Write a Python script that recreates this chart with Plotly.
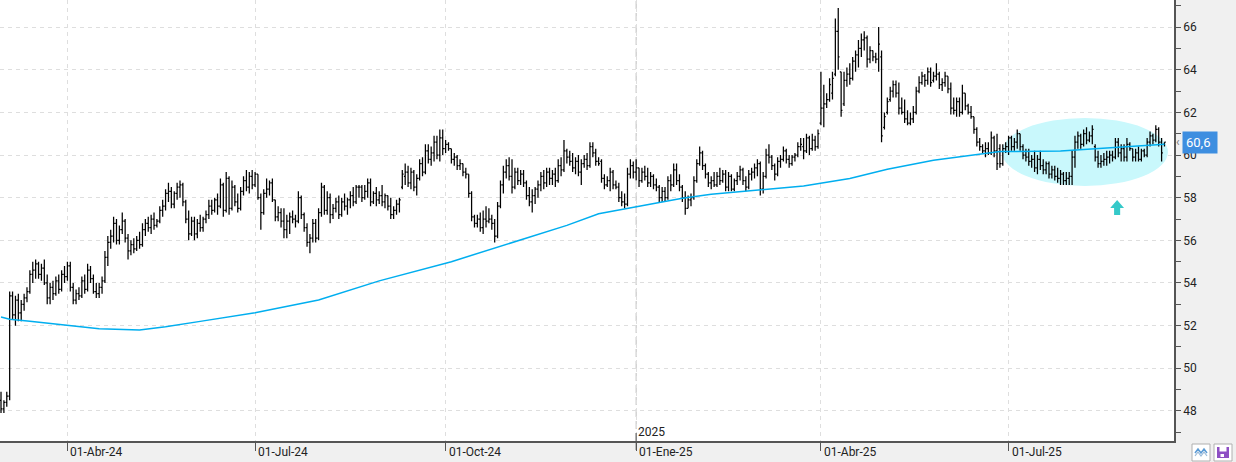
import pandas as pd
import plotly.graph_objects as go

# ---------------- data (daily OHLC) ----------------
start_date = "2024-02-28"

opens = [
48.5,48.1,48.4,48.7,53.4,52.5,53.2,52.6,53.0,53.3,
53.6,54.4,54.6,54.9,54.4,54.7,54.0,53.3,53.8,53.5,
54.1,53.7,54.4,54.3,54.8,53.8,53.2,53.5,53.4,54.1,
53.7,54.6,54.2,53.6,53.5,53.8,54.1,55.2,55.9,56.2,
56.8,56.0,56.5,56.9,56.1,55.5,55.8,55.6,56.0,55.8,
56.5,56.8,56.6,57.0,56.7,56.9,57.4,57.6,58.2,58.3,
57.7,58.2,58.5,58.6,57.8,57.0,56.3,56.9,56.3,56.8,
56.6,57.0,57.2,57.6,57.4,57.9,57.6,58.6,57.4,58.9,
57.5,58.5,57.8,57.5,58.3,58.8,58.5,59.0,58.6,59.1,
58.0,57.3,58.2,58.4,58.7,57.9,57.1,57.3,56.9,56.5,
56.9,57.1,57.0,56.9,58.0,57.2,56.6,55.9,56.1,56.8,
56.1,57.3,58.5,57.4,58.0,57.2,57.5,57.8,57.2,57.8,
57.6,57.9,58.1,57.8,58.5,58.5,58.0,58.3,58.7,57.8,
58.2,57.9,58.1,57.8,58.1,57.6,57.2,57.4,57.7,58.5,
59.0,59.2,58.7,59.2,58.5,58.9,59.6,59.2,60.2,59.8,
60.1,60.6,60.0,60.8,60.3,60.5,60.3,59.8,59.9,59.5,
59.6,59.2,59.1,58.2,57.1,56.8,57.0,56.6,57.0,56.9,
57.0,56.8,56.2,57.6,58.6,59.2,59.5,59.0,58.5,59.2,
58.8,59.1,58.7,58.1,57.8,58.1,58.4,58.6,59.0,58.7,
59.2,58.9,59.1,58.8,59.5,59.3,60.2,59.9,59.7,59.4,
59.7,59.2,59.6,59.8,59.5,60.4,60.1,59.7,59.7,58.9,
58.6,58.8,59.2,58.6,58.5,58.0,57.8,57.7,59.1,59.5,
59.2,59.4,58.8,59.2,59.0,58.7,59.0,58.6,58.5,58.0,
58.3,58.0,58.8,58.6,59.3,58.8,58.5,58.0,57.5,57.9,
58.0,58.8,59.6,60.1,59.5,59.1,58.7,58.8,58.6,59.0,
58.8,59.1,58.5,59.0,58.4,58.8,59.0,59.3,58.8,58.5,
59.1,59.2,59.4,59.6,58.4,59.0,60.0,59.9,59.5,59.1,
59.7,59.8,60.2,59.8,59.6,59.9,60.0,60.4,60.4,60.2,
60.8,60.3,60.7,60.4,61.5,62.2,62.4,62.6,62.9,63.8,
65.8,63.9,62.4,63.5,63.8,63.6,64.4,64.7,65.0,65.4,
65.5,64.5,64.9,64.6,64.5,64.6,61.3,62.0,62.6,63.0,
63.3,62.9,62.2,62.0,61.7,61.5,61.7,62.0,63.0,63.4,
63.7,63.5,63.9,63.5,63.7,63.8,63.3,63.4,63.7,63.1,
62.2,62.1,62.5,62.0,62.9,62.3,62.0,61.8,61.2,60.6,
60.4,60.2,60.3,60.1,60.8,60.2,60.3,59.6,60.3,60.4,
60.8,60.4,60.6,61.0,60.4,60.0,59.9,59.7,59.8,59.4,
59.8,59.5,59.3,59.6,59.1,59.3,59.0,58.9,59.1,58.8,
58.9,59.0,59.9,60.6,60.9,60.5,61.0,60.7,60.9,60.4,
59.9,59.6,59.7,59.8,59.9,60.0,59.9,60.6,60.1,60.3,
59.9,60.5,60.3,59.9,60.1,59.8,60.2,60.0,60.6,60.9,
60.7,61.2,60.6,60.5]

highs = [
48.9,48.5,48.9,53.6,53.6,53.4,53.5,53.2,53.5,53.8,
54.6,55.0,55.1,55.0,54.9,55.1,54.4,54.0,54.1,54.3,
54.4,54.6,54.8,55.0,55.0,54.0,53.7,53.8,54.3,54.4,
54.9,54.8,54.4,54.0,54.0,54.3,55.5,56.2,56.5,57.1,
57.0,56.7,57.3,57.0,56.3,56.0,56.1,56.2,56.4,56.8,
57.0,57.1,57.2,57.3,57.0,57.6,57.9,58.4,58.7,58.5,
58.3,58.7,58.8,58.7,57.9,57.4,57.1,57.1,57.0,57.2,
57.1,57.4,57.9,57.9,58.0,58.2,58.9,58.7,59.2,59.0,
58.8,58.6,58.2,58.5,59.0,59.3,59.2,59.3,59.2,59.1,
58.2,58.4,58.9,58.8,58.9,57.9,57.6,57.5,57.5,57.2,
57.3,57.4,57.2,58.3,58.1,57.3,56.8,56.3,57.0,57.0,
57.5,58.7,58.6,58.3,58.2,57.7,58.0,58.1,58.0,58.2,
58.0,58.3,58.5,58.6,58.6,58.6,58.6,58.9,58.9,58.3,
58.5,58.3,58.6,58.2,58.1,58.0,57.6,57.9,58.0,59.3,
59.6,59.5,59.4,59.3,59.1,59.8,59.9,60.5,60.5,60.4,
60.9,60.9,61.2,61.2,60.7,60.6,60.3,60.1,60.0,59.8,
59.6,59.4,59.1,58.3,57.2,57.2,57.3,57.4,57.6,57.5,
57.2,57.0,57.8,58.8,59.5,59.8,59.9,59.8,59.4,59.4,
59.3,59.3,58.8,58.5,58.4,58.5,58.8,59.2,59.3,59.4,
59.4,59.3,59.4,59.8,59.9,60.7,60.3,60.2,60.1,59.9,
60.0,59.8,60.0,60.1,60.6,60.6,60.3,59.9,59.8,59.1,
59.0,59.4,59.3,58.8,58.7,58.3,58.2,59.4,59.8,59.7,
59.8,59.4,59.4,59.5,59.4,59.2,59.1,58.9,58.6,58.5,
58.5,59.0,59.1,59.6,59.6,59.1,58.6,58.3,58.1,58.2,
59.0,59.8,60.4,60.2,59.6,59.2,59.0,59.2,59.2,59.4,
59.3,59.3,59.2,59.1,58.9,59.2,59.5,59.4,59.0,59.3,
59.4,59.6,59.8,59.7,59.2,60.3,60.5,60.0,59.6,59.9,
60.0,60.4,60.3,60.0,60.0,60.1,60.6,60.8,60.8,61.0,
60.9,61.0,60.9,61.2,63.9,63.3,62.9,63.6,63.9,66.4,
66.9,63.9,63.9,64.1,64.3,64.6,64.9,65.4,65.7,65.8,
65.6,65.1,64.9,64.8,66.0,64.9,62.0,62.7,63.2,63.5,
63.5,63.4,62.7,62.6,62.1,62.0,62.3,63.2,63.7,63.9,
63.8,64.1,64.1,63.9,64.3,63.9,63.6,63.9,63.7,63.4,
62.7,62.7,62.7,63.3,62.9,62.4,62.3,61.8,61.3,60.8,
60.5,60.6,60.6,61.1,60.9,61.0,60.5,60.5,60.6,60.9,
60.9,60.8,61.2,61.0,60.5,60.3,60.3,60.0,60.2,60.0,
60.2,59.8,59.7,59.7,59.5,59.5,59.4,59.3,59.2,59.2,
59.2,60.2,60.9,61.1,61.0,61.2,61.3,61.1,61.4,60.5,
60.2,60.0,60.1,60.2,60.2,60.2,60.8,60.8,60.5,60.5,
60.8,60.6,60.3,60.3,60.4,60.3,60.3,60.8,61.1,61.0,
61.4,61.3,60.8,60.6]

lows = [
47.9,47.9,48.2,48.5,52.3,52.0,52.2,52.2,52.7,53.1,
53.5,54.0,54.2,54.2,54.1,53.9,53.0,53.0,53.2,53.4,
53.5,53.6,54.0,54.1,53.6,53.0,53.0,53.2,53.3,53.5,
53.6,54.0,53.5,53.3,53.3,53.5,54.0,54.8,55.6,55.9,
55.8,55.8,56.3,55.9,55.1,55.3,55.4,55.5,55.6,55.7,
56.2,56.4,56.3,56.5,56.6,56.8,57.1,57.4,57.8,57.5,
57.5,57.9,58.0,57.6,56.8,56.0,56.2,56.0,56.1,56.4,
56.4,56.8,57.0,57.2,57.3,57.2,57.5,57.1,57.3,57.2,
57.4,57.6,57.3,57.4,58.1,58.3,58.2,58.4,58.5,57.9,
56.5,57.2,58.0,58.1,57.8,56.9,56.9,56.6,56.1,56.1,
56.3,56.8,56.6,56.8,57.0,56.4,55.7,55.4,55.9,55.9,
56.0,57.1,57.2,57.2,56.8,57.0,57.3,57.0,57.1,57.4,
57.2,57.5,57.6,57.7,58.0,57.8,57.9,58.0,57.6,57.7,
57.6,57.7,57.6,57.5,57.4,57.0,57.0,57.2,57.3,58.4,
58.6,58.5,58.4,58.3,58.1,58.8,59.0,59.1,59.6,59.5,
59.7,59.8,59.7,60.0,60.1,60.2,59.6,59.5,59.3,59.3,
59.0,58.9,58.0,56.9,56.6,56.6,56.4,56.3,56.6,56.8,
56.5,55.9,56.1,57.5,58.2,58.9,58.8,58.2,58.4,58.6,
58.6,58.5,57.9,57.6,57.3,57.7,58.0,58.3,58.4,58.5,
58.6,58.6,58.5,58.7,59.0,59.2,59.6,59.5,59.2,59.1,
59.0,58.6,59.4,59.3,59.4,59.9,59.5,59.5,58.7,58.4,
58.5,58.3,58.4,58.4,57.8,57.6,57.5,57.6,58.9,58.9,
58.8,58.5,58.7,58.8,58.5,58.5,58.4,58.3,57.8,57.8,
57.8,57.9,58.3,58.5,58.6,58.3,57.8,57.2,57.5,57.6,
57.9,58.7,59.5,59.3,58.9,58.5,58.4,58.5,58.5,58.6,
58.7,58.3,58.3,58.3,58.3,58.6,58.8,58.6,58.3,58.4,
58.8,58.9,59.0,58.1,58.2,58.9,59.6,59.3,58.8,59.0,
59.4,59.7,59.6,59.4,59.5,59.7,59.9,60.2,59.8,60.1,
60.0,60.2,60.2,60.3,61.4,61.3,62.2,62.5,62.6,63.7,
64.0,61.8,62.3,63.2,63.3,63.5,63.9,64.1,64.6,64.9,
64.1,64.3,64.4,64.3,63.9,60.6,61.2,61.9,62.5,62.7,
62.7,61.9,61.9,61.5,61.4,61.4,61.5,61.9,62.9,63.3,
63.2,63.3,63.2,63.4,63.5,63.1,63.0,63.2,62.9,61.9,
61.9,61.8,61.8,61.9,62.1,61.9,61.7,61.0,60.4,60.2,
60.1,59.9,60.0,60.0,59.9,59.3,59.4,59.5,60.1,60.0,
60.2,60.2,60.3,60.2,59.8,59.7,59.5,59.4,59.2,59.1,
59.3,59.1,59.1,58.9,58.9,58.8,58.7,58.6,58.6,58.6,
58.6,58.6,59.4,60.3,60.3,60.4,60.5,60.6,60.5,59.7,
59.4,59.4,59.5,59.5,59.6,59.7,59.8,59.9,59.7,59.7,
59.7,60.2,59.7,59.7,59.7,59.7,59.9,59.9,60.4,60.5,
60.6,60.4,59.7,60.4]

closes = [
48.1,48.4,48.7,53.4,52.5,53.2,52.6,53.0,53.3,53.6,
54.4,54.6,54.9,54.4,54.7,54.0,53.3,53.8,53.5,54.1,
53.7,54.4,54.3,54.8,53.8,53.2,53.5,53.4,54.1,53.7,
54.6,54.2,53.6,53.5,53.8,54.1,55.2,55.9,56.2,56.8,
56.0,56.5,56.9,56.1,55.5,55.8,55.6,56.0,55.8,56.5,
56.8,56.6,57.0,56.7,56.9,57.4,57.6,58.2,58.3,57.7,
58.2,58.5,58.6,57.8,57.0,56.3,56.9,56.3,56.8,56.6,
57.0,57.2,57.6,57.4,57.9,57.6,58.6,57.4,58.9,57.5,
58.5,57.8,57.5,58.3,58.8,58.5,59.0,58.6,59.1,58.0,
57.3,58.2,58.4,58.7,57.9,57.1,57.3,56.9,56.5,56.9,
57.1,57.0,56.9,58.0,57.2,56.6,55.9,56.1,56.8,56.1,
57.3,58.5,57.4,58.0,57.2,57.5,57.8,57.2,57.8,57.6,
57.9,58.1,57.8,58.5,58.5,58.0,58.3,58.7,57.8,58.2,
57.9,58.1,57.8,58.1,57.6,57.2,57.4,57.7,57.9,59.1,
59.2,58.7,59.2,58.5,58.9,59.6,59.2,60.2,59.8,60.1,
60.6,60.0,60.8,60.3,60.5,60.3,59.8,59.9,59.5,59.6,
59.2,59.1,58.2,57.1,56.8,57.0,56.6,57.0,56.9,57.0,
56.8,56.2,57.6,58.6,59.2,59.5,59.0,58.5,59.2,58.8,
59.1,58.7,58.1,57.8,58.1,58.4,58.6,59.0,58.7,59.2,
58.9,59.1,58.8,59.5,59.3,60.2,59.9,59.7,59.4,59.7,
59.2,59.6,59.8,59.5,60.4,60.1,59.7,59.6,58.9,58.6,
58.8,59.2,58.6,58.5,58.0,57.8,57.7,59.1,59.5,59.2,
59.4,58.8,59.2,59.0,58.7,59.0,58.6,58.5,58.0,58.3,
58.0,58.8,58.6,59.3,58.8,58.5,58.0,57.5,57.9,58.0,
58.8,59.6,60.1,59.5,59.1,58.7,58.8,58.6,59.0,58.8,
59.1,58.5,59.0,58.4,58.8,59.0,59.3,58.8,58.5,59.1,
59.2,59.4,59.6,58.4,59.0,60.0,59.9,59.5,59.1,59.7,
59.8,60.2,59.8,59.6,59.9,60.0,60.4,60.5,60.2,60.8,
60.3,60.7,60.4,61.0,62.2,62.4,62.6,63.3,63.6,65.8,
64.6,62.1,63.5,63.8,63.6,64.4,64.7,65.0,65.4,65.5,
64.5,64.9,64.6,64.5,65.2,60.9,61.8,62.5,63.0,63.3,
62.9,62.2,62.0,61.7,61.5,61.7,62.0,63.0,63.4,63.7,
63.5,63.9,63.4,63.7,63.8,63.3,63.4,63.7,63.1,62.2,
62.1,62.5,62.0,62.9,62.3,62.0,61.8,61.2,60.6,60.4,
60.2,60.3,60.1,60.8,60.2,59.6,59.6,60.3,60.4,60.8,
60.4,60.6,61.0,60.4,60.0,59.9,59.7,59.8,59.4,59.8,
59.5,59.3,59.6,59.1,59.3,59.0,58.9,59.1,58.8,58.9,
59.0,59.9,60.6,60.9,60.5,61.0,60.7,60.9,61.2,59.9,
59.6,59.7,59.8,59.9,60.0,59.9,60.6,60.1,60.3,59.9,
60.5,60.3,59.9,60.1,59.8,60.2,60.0,60.6,60.9,60.7,
61.2,60.6,60.1,60.6]

# moving average (read at sampled bars)
ma_bar = [0, 3, 10, 17, 24, 34, 48, 57, 69, 88, 110, 131, 156, 170, 184, 196,
          207, 221, 236, 246, 264, 278, 294, 307, 323, 339, 346, 367, 379, 395, 403]
ma_vals = [52.4, 52.3, 52.2, 52.1, 52.0, 51.85, 51.8, 51.95, 52.2, 52.6, 53.2, 54.1,
           55.0, 55.6, 56.2, 56.7, 57.25, 57.6, 57.97, 58.16, 58.36, 58.55, 58.9,
           59.33, 59.76, 60.05, 60.16, 60.19, 60.31, 60.44, 60.5]

tick_dates = ["2024-04-01", "2024-07-01", "2024-10-01", "2025-01-01", "2025-04-01", "2025-07-01"]
tick_text = ["01-Abr-24", "01-Jul-24", "01-Oct-24", "01-Ene-25", "01-Abr-25", "01-Jul-25"]
year_label = "2025"

# highlight (ellipse) and arrow, in data units
ellipse_x = [346.7, 404.2]
ellipse_y = [58.55, 61.74]
arrow_bar = 386.6
arrow_tip, arrow_base, arrow_bottom = 57.89, 57.52, 57.19

# ---------------- build ----------------
dates = pd.bdate_range(start_date, periods=len(closes))
xi = list(range(len(closes)))
tick_idx = [int((dates >= pd.Timestamp(d)).argmax()) for d in tick_dates]

W, H = 1236, 462
ML, MR, MT, MB = 0, 62, 0, 21
PW, PH = W - ML - MR, H - MT - MB


def px(x):
    return (x - ML) / PW


def py(y):
    return (MT + PH - y) / PH


fig = go.Figure()
fig.add_trace(go.Ohlc(
    x=xi, open=opens, high=highs, low=lows, close=closes,
    increasing=dict(line=dict(color="#000000", width=1.25)),
    decreasing=dict(line=dict(color="#000000", width=1.25)),
    tickwidth=0.45, hoverinfo="skip", showlegend=False))
fig.add_trace(go.Scatter(
    x=ma_bar, y=ma_vals, mode="lines",
    line=dict(color="#00aeef", width=1.5), hoverinfo="skip", showlegend=False))

shapes = []
# highlight ellipse
shapes.append(dict(type="circle", xref="x", yref="y",
                   x0=ellipse_x[0], x1=ellipse_x[1], y0=ellipse_y[0], y1=ellipse_y[1],
                   fillcolor="#c9f8fc", line=dict(width=0), layer="between"))
# arrow
hw, sw = 2.4, 1.05
path = (f"M {arrow_bar - hw},{arrow_base} L {arrow_bar},{arrow_tip} L {arrow_bar + hw},{arrow_base} "
        f"L {arrow_bar + sw},{arrow_base} L {arrow_bar + sw},{arrow_bottom} "
        f"L {arrow_bar - sw},{arrow_bottom} L {arrow_bar - sw},{arrow_base} Z")
shapes.append(dict(type="path", xref="x", yref="y", path=path,
                   fillcolor="#35c9c9", line=dict(width=0), layer="above"))
# year separator line
jan = tick_idx[3]
shapes.append(dict(type="line", xref="x", yref="paper", x0=jan, x1=jan, y0=0, y1=1,
                   line=dict(color="#bdbdbd", width=1, dash="8px,4px"), layer="below"))
shapes.append(dict(type="line", xref="x", yref="paper", x0=jan, x1=jan, y0=py(433), y1=py(450),
                   line=dict(color="#555555", width=1)))
# bottom-right icons
shapes.append(dict(type="rect", xref="paper", yref="paper", x0=px(1192), x1=px(1210),
                   y0=py(461), y1=py(444), fillcolor="#ffffff", line=dict(color="#b0b0b0", width=1)))
shapes.append(dict(type="path", xref="paper", yref="paper",
                   path=(f"M {px(1195)},{py(453)} L {px(1198)},{py(449)} L {px(1201)},{py(453)} "
                         f"L {px(1204)},{py(449)} L {px(1207)},{py(453)}"),
                   line=dict(color="#5b9bd5", width=1.5)))
shapes.append(dict(type="path", xref="paper", yref="paper",
                   path=(f"M {px(1195)},{py(456)} L {px(1198)},{py(452)} L {px(1201)},{py(456)} "
                         f"L {px(1204)},{py(452)} L {px(1207)},{py(456)}"),
                   line=dict(color="#9bbbd9", width=1.2)))
shapes.append(dict(type="rect", xref="paper", yref="paper", x0=px(1214), x1=px(1232),
                   y0=py(461), y1=py(444), fillcolor="#ffffff", line=dict(color="#b0b0b0", width=1)))
shapes.append(dict(type="rect", xref="paper", yref="paper", x0=px(1217), x1=px(1229),
                   y0=py(458), y1=py(447), fillcolor="#8e4fc4", line=dict(width=0)))
shapes.append(dict(type="rect", xref="paper", yref="paper", x0=px(1219.5), x1=px(1226.5),
                   y0=py(451.5), y1=py(447), fillcolor="#ffffff", line=dict(width=0)))
shapes.append(dict(type="rect", xref="paper", yref="paper", x0=px(1220.5), x1=px(1224),
                   y0=py(457), y1=py(454), fillcolor="#ffffff", line=dict(width=0)))

annotations = []
for ti, tt in zip(tick_idx, tick_text):
    annotations.append(dict(x=ti, y=0, xref="x", yref="paper", text=tt, showarrow=False,
                            xanchor="left", yanchor="top", xshift=1, yshift=-2,
                            font=dict(size=12, color="#222222")))
annotations.append(dict(x=jan, y=0, xref="x", yref="paper", text=year_label, showarrow=False,
                        xanchor="left", yanchor="bottom", xshift=0, yshift=0,
                        font=dict(size=12, color="#222222")))
last_txt = f"{closes[-1]:.1f}".replace(".", ",")
annotations.append(dict(x=1, y=closes[-1], xref="paper", yref="y", text=last_txt + " ", showarrow=False,
                        xanchor="left", yanchor="middle", xshift=8,
                        bgcolor="#3d8ee0", borderpad=3, font=dict(size=13, color="#ffffff")))
annotations.append(dict(x=1, y=closes[-1], xref="paper", yref="y", text="‹", showarrow=False,
                        xanchor="left", yanchor="middle", xshift=0,
                        font=dict(size=12, color="#777777")))

fig.update_layout(
    width=W, height=H,
    margin=dict(l=ML, r=MR, t=MT, b=MB, pad=0),
    paper_bgcolor="#f0f0f0", plot_bgcolor="#ffffff",
    font=dict(family="Roboto, Arial, sans-serif", size=12, color="#222222"),
    showlegend=False,
    shapes=shapes, annotations=annotations,
    xaxis=dict(range=[-0.35, 406.3], tickmode="array", tickvals=tick_idx, showticklabels=False,
               ticks="outside", ticklen=8, tickcolor="#555555",
               showgrid=True, gridcolor="#dedede", griddash="4px,4px", gridwidth=1,
               showline=True, linecolor="#555555", linewidth=1.5, zeroline=False,
               rangeslider=dict(visible=False), fixedrange=True),
    yaxis=dict(range=[46.59, 67.27], side="right", dtick=2, tick0=48,
               ticks="outside", ticklen=5, tickcolor="#555555",
               minor=dict(dtick=1, ticks="outside", ticklen=5, tickcolor="#555555", showgrid=False),
               showgrid=True, gridcolor="#dedede", griddash="4px,4px", gridwidth=1,
               showline=True, linecolor="#555555", linewidth=1.5, zeroline=False,
               tickfont=dict(size=12, color="#222222"), fixedrange=True),
)

fig.write_html("out.html")
